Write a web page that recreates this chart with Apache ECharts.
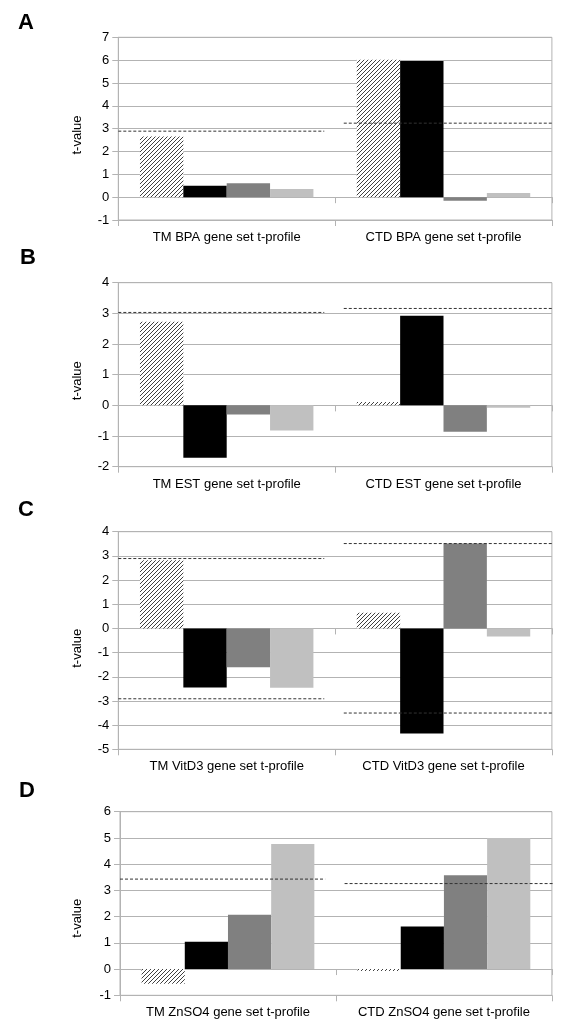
<!DOCTYPE html>
<html>
<head>
<meta charset="utf-8">
<script src="https://cdn.jsdelivr.net/npm/echarts@6/dist/echarts.min.js"></script>
<style>
html,body{margin:0;padding:0;background:#ffffff;}
#chart{width:568px;height:1035px;}
</style>
</head>
<body>
<div id="chart"></div>
<script>
// ---------------- DATA ----------------
const seriesNames = ['Series 1 (hatched)', 'Series 2 (black)', 'Series 3 (dark grey)', 'Series 4 (light grey)'];
const panelLetters = ['A', 'B', 'C', 'D'];
const yAxisTitle = 't-value';

const bpaCategories = ['TM BPA gene set t-profile', 'CTD BPA gene set t-profile'];
const bpaValues = [[2.66, 6.02], [0.50, 5.96], [0.61, -0.16], [0.36, 0.18]];
const bpaThresholds = [[2.89], [3.24]];
const bpaRange = [-1, 7];

const estCategories = ['TM EST gene set t-profile', 'CTD EST gene set t-profile'];
const estValues = [[2.73, 0.11], [-1.71, 2.92], [-0.30, -0.86], [-0.82, -0.08]];
const estThresholds = [[3.03], [3.16]];
const estRange = [-2, 4];

const vitd3Categories = ['TM VitD3 gene set t-profile', 'CTD VitD3 gene set t-profile'];
const vitd3Values = [[2.82, 0.65], [-2.44, -4.35], [-1.61, 3.51], [-2.45, -0.33]];
const vitd3Thresholds = [[2.89, -2.91], [3.51, -3.50]];
const vitd3Range = [-5, 4];

const znso4Categories = ['TM ZnSO4 gene set t-profile', 'CTD ZnSO4 gene set t-profile'];
const znso4Values = [[-0.56, -0.07], [1.04, 1.62], [2.07, 3.58], [4.77, 5.00]];
const znso4Thresholds = [[3.43], [3.26]];
const znso4Range = [-1, 6];

// ---------------- LAYOUT / STYLE ----------------
const GRID_COLOR = '#b3b3b3';
const FONT = "'Liberation Sans', Arial, sans-serif";

function hatchPattern() {
  const s = 4;
  const c = document.createElement('canvas');
  c.width = s; c.height = s;
  const g = c.getContext('2d');
  g.fillStyle = '#ffffff';
  g.fillRect(0, 0, s, s);
  g.fillStyle = '#404040';
  for (let i = 0; i < s; i++) g.fillRect(i, s - 1 - i, 1, 1);
  return c;
}
const barColors = [{ image: hatchPattern(), repeat: 'repeat' }, '#000000', '#808080', '#c0c0c0'];

// threshold segment extents in category-width units (0..2 spans the plot)
const segExtents = [[0, 0.95], [1.04, 2.03]];

const panels = [
  { cats: bpaCategories, vals: bpaValues, thr: bpaThresholds, range: bpaRange, top: 37.3, bottom: 220, left: 118.3, letter: [26, 23], title: 135 },
  { cats: estCategories, vals: estValues, thr: estThresholds, range: estRange, top: 282.7, bottom: 466.7, left: 118.3, letter: [28, 258], title: 380.7 },
  { cats: vitd3Categories, vals: vitd3Values, thr: vitd3Thresholds, range: vitd3Range, top: 531.7, bottom: 749.3, left: 118.3, letter: [26, 510], title: 648.3 },
  { cats: znso4Categories, vals: znso4Values, thr: znso4Thresholds, range: znso4Range, top: 811.7, bottom: 995.3, left: 120, letter: [27, 791], title: 918.3 }
];

const grid = [], xAxis = [], yAxis = [], series = [], graphic = [];

panels.forEach((p, i) => {
  grid.push({
    left: p.left, right: 16.1, top: p.top, height: p.bottom - p.top,
    show: true, borderColor: GRID_COLOR, borderWidth: 1, backgroundColor: 'transparent',
    containLabel: false
  });
  // main category axis with labels, at bottom of plot
  xAxis.push({
    type: 'category', gridIndex: i, data: p.cats, position: 'bottom',
    axisLine: { show: true, onZero: false, lineStyle: { color: GRID_COLOR } },
    axisTick: { show: true, length: 6, interval: 0, lineStyle: { color: GRID_COLOR } },
    axisLabel: { color: '#000', fontSize: 13, fontFamily: FONT, margin: 11, interval: 0 },
    splitLine: { show: false }
  });
  // tick-only category axis sitting on zero
  xAxis.push({
    type: 'category', gridIndex: i, data: p.cats, position: 'bottom',
    axisLine: { show: true, onZero: true, lineStyle: { color: GRID_COLOR } },
    axisTick: { show: true, length: 6, interval: 0, lineStyle: { color: GRID_COLOR } },
    axisLabel: { show: false },
    splitLine: { show: false }
  });
  // hidden value axis used for threshold segments
  xAxis.push({ type: 'value', gridIndex: i, min: 0, max: 2, show: false, position: 'top' });

  yAxis.push({
    type: 'value', gridIndex: i, min: p.range[0], max: p.range[1], interval: 1,
    axisLine: { show: true, lineStyle: { color: GRID_COLOR } },
    axisTick: { show: true, length: 6, lineStyle: { color: GRID_COLOR } },
    axisLabel: { color: '#000', fontSize: 13, fontFamily: FONT, margin: 9 },
    splitLine: { show: true, lineStyle: { color: GRID_COLOR, width: 1 } }
  });

  p.vals.forEach((vals, s) => {
    series.push({
      type: 'bar', name: seriesNames[s], xAxisIndex: i * 3, yAxisIndex: i,
      data: vals, barGap: '0%', barCategoryGap: '20%',
      itemStyle: { color: barColors[s] }, silent: true, animation: false
    });
  });

  p.thr.forEach((list, c) => {
    list.forEach(t => {
      series.push({
        type: 'line', xAxisIndex: i * 3 + 2, yAxisIndex: i,
        data: [[segExtents[c][0], t], [segExtents[c][1], t]],
        symbol: 'none', clip: false, silent: true, animation: false, z: 5,
        lineStyle: { color: '#333333', width: 1, type: [3, 2] }
      });
    });
  });

  graphic.push({
    type: 'text', x: p.letter[0], y: p.letter[1],
    style: { text: panelLetters[i], font: "bold 22px " + FONT, fill: '#000', textAlign: 'center', textVerticalAlign: 'middle' }
  });
  graphic.push({
    type: 'text', x: 77, y: p.title, rotation: Math.PI / 2,
    style: { text: yAxisTitle, font: "13px " + FONT, fill: '#000', textAlign: 'center', textVerticalAlign: 'middle' }
  });
});

const chart = echarts.init(document.getElementById('chart'), null, { renderer: 'canvas' });
chart.setOption({
  animation: false,
  backgroundColor: '#ffffff',
  grid, xAxis, yAxis, series, graphic
});
</script>
</body>
</html>
